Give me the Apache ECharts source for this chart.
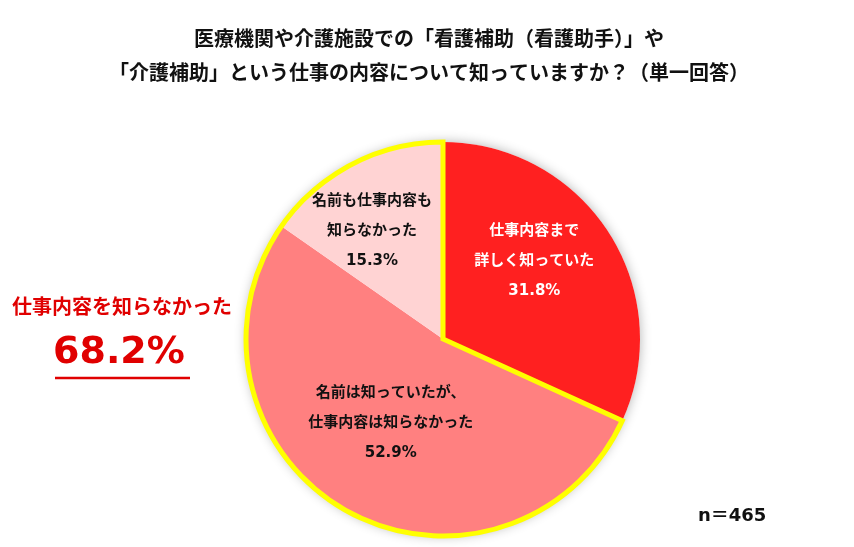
<!DOCTYPE html>
<html>
<head>
<meta charset="utf-8">
<script src="https://cdn.jsdelivr.net/npm/echarts@6/dist/echarts.min.js"></script>
<style>
  html, body { margin: 0; padding: 0; background: #fff; }
  #chart { width: 854px; height: 547px; }
</style>
</head>
<body>
<div id="chart"></div>
<script>
// survey answers (single answer, n=465)
const answers = ['仕事内容まで\n詳しく知っていた', '名前は知っていたが、\n仕事内容は知らなかった', '名前も仕事内容も\n知らなかった'];
const shares = [31.8, 52.9, 15.3];
// knew the work / did not know the work (outlined in yellow)
const groupShares = [31.8, 68.2];
const sliceColors = ['#FF2020', '#FF8080', '#FFD3D3'];
const labelColors = ['#fff', '#111', '#111'];
const notKnownShare = '68.2%';
const sampleSize = 'n＝465';
const titleText = '医療機関や介護施設での「看護補助（看護助手）」や\n「介護補助」という仕事の内容について知っていますか？（単一回答）';

// nudges so the labels sit where the original has them
const labelNudge = [[6, -23], [-2, -4], [-24, -18]];

const JP = '"Noto Sans CJK JP", sans-serif';
const NUM = '"DejaVu Sans", "Noto Sans CJK JP", sans-serif';
const YELLOW = '#FFFF00';
const CENTER = [443, 339];
const R = 197;

const chart = echarts.init(document.getElementById('chart'));

chart.setOption({
  backgroundColor: '#fff',
  series: [
    {
      // soft shadow behind the pie
      type: 'pie',
      center: CENTER,
      radius: [0, R],
      silent: true,
      label: { show: false },
      labelLine: { show: false },
      data: [{ value: 1, itemStyle: { color: '#fff', shadowBlur: 12, shadowColor: 'rgba(0,0,0,0.3)' } }],
      z: 1
    },
    {
      type: 'pie',
      center: CENTER,
      radius: [0, R],
      startAngle: 90,
      clockwise: true,
      silent: true,
      data: answers.map((name, i) => ({
        name: name,
        value: shares[i],
        itemStyle: { color: sliceColors[i], borderWidth: 0 },
        label: { color: labelColors[i] }
      })),
      label: {
        show: true,
        position: 'inside',
        formatter: '{b}\n{c}%',
        fontFamily: NUM,
        fontSize: 15,
        fontWeight: 'bold',
        lineHeight: 30,
        align: 'center'
      },
      labelLine: { show: false },
      labelLayout: (p) => ({ dx: labelNudge[p.dataIndex][0], dy: labelNudge[p.dataIndex][1] }),
      z: 2
    },
    {
      // yellow outline round the "did not know the work" group
      type: 'pie',
      center: CENTER,
      radius: [0, R],
      startAngle: 90,
      clockwise: true,
      silent: true,
      label: { show: false },
      labelLine: { show: false },
      data: groupShares.map((v, i) => ({
        value: v,
        itemStyle: i === 0
          ? { color: 'transparent', borderWidth: 0 }
          : { color: 'transparent', borderColor: YELLOW, borderWidth: 5, borderJoin: 'miter' }
      })),
      z: 3
    }
  ],
  graphic: [
    {
      type: 'text',
      x: 429,
      y: 21,
      style: { text: titleText, font: 'bold 20px ' + JP, fill: '#111', align: 'center', lineHeight: 34 }
    },
    {
      type: 'text',
      left: 12,
      top: 296,
      style: { text: '仕事内容を知らなかった', font: 'bold 20px ' + JP, fill: '#E00000' }
    },
    {
      type: 'text',
      left: 53,
      top: 334,
      style: { text: notKnownShare, font: 'bold 38px ' + NUM, fill: '#E00000' }
    },
    {
      type: 'line',
      shape: { x1: 55, y1: 378, x2: 190, y2: 378 },
      style: { stroke: '#E00000', lineWidth: 2.5 }
    },
    {
      type: 'text',
      left: 698,
      top: 507,
      style: { text: sampleSize, font: 'bold 18px ' + NUM, fill: '#111' }
    }
  ]
});
</script>
</body>
</html>
